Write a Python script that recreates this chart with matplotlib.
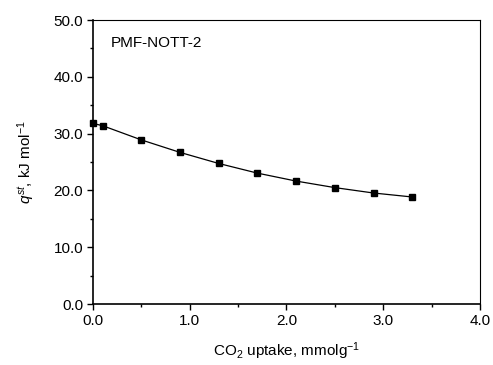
import matplotlib
matplotlib.use("Agg")
import matplotlib.pyplot as plt
from matplotlib.ticker import MultipleLocator, FormatStrFormatter

plt.rcParams['font.family'] = ['Liberation Sans', 'DejaVu Sans']
plt.rcParams['mathtext.fontset'] = 'custom'
plt.rcParams['mathtext.rm'] = 'Liberation Sans'
plt.rcParams['mathtext.it'] = 'Liberation Sans:italic'

uptake = [0.0, 0.1, 0.5, 0.9, 1.3, 1.7, 2.1, 2.5, 2.9, 3.3]
qst = [31.8, 31.4, 28.9, 26.7, 24.75, 23.05, 21.65, 20.5, 19.55, 18.85]

fig = plt.figure(figsize=(4.93, 3.65), dpi=100)
ax = fig.add_axes([0.1886, 0.167, 0.785, 0.778])

ax.plot(uptake, qst, color='black', lw=0.9, marker='s', ms=5, clip_on=False)

ax.set_xlim(0, 4.0)
ax.set_ylim(0, 50.0)
ax.xaxis.set_major_locator(MultipleLocator(1.0))
ax.xaxis.set_minor_locator(MultipleLocator(0.5))
ax.yaxis.set_major_locator(MultipleLocator(10.0))
ax.yaxis.set_minor_locator(MultipleLocator(5.0))
ax.xaxis.set_major_formatter(FormatStrFormatter('%.1f'))
ax.yaxis.set_major_formatter(FormatStrFormatter('%.1f'))
ax.tick_params(which='both', direction='out', top=False, right=False, labelsize=11)
ax.tick_params(which='major', length=4, width=1, pad=3)
ax.tick_params(which='minor', length=2.5, width=1)
for s in ['left', 'bottom']:
    ax.spines[s].set_linewidth(1.2)
for s in ['top', 'right']:
    ax.spines[s].set_linewidth(0.8)

ax.set_xlabel('CO$_2$ uptake, mmolg$^{-1}$', fontsize=11, labelpad=9)
ax.set_ylabel('$q^{st}$, kJ mol$^{-1}$', fontsize=11, labelpad=12)
ax.text(0.045, 0.92, 'PMF-NOTT-2', transform=ax.transAxes, fontsize=11,
        va='center', ha='left')

fig.savefig('out.png', dpi=100)
